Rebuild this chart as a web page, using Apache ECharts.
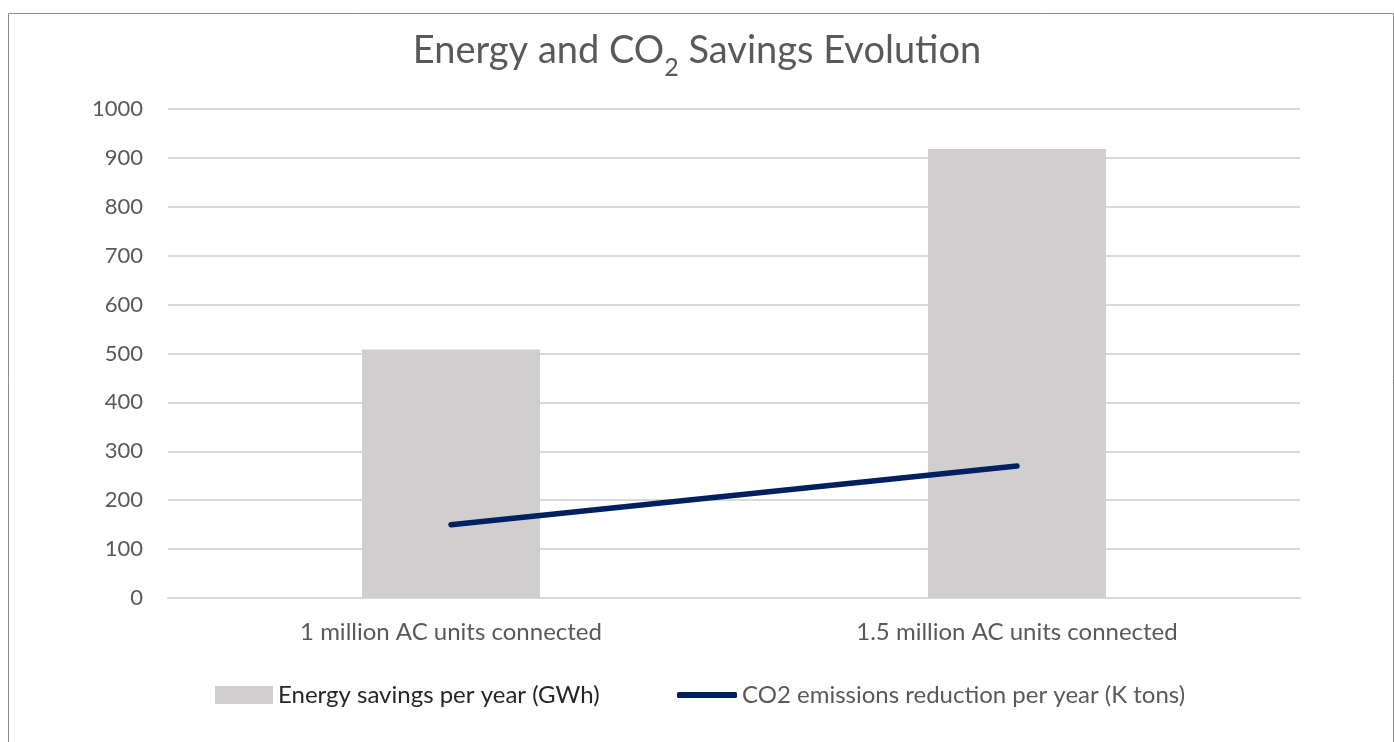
<!DOCTYPE html>
<html><head><meta charset="utf-8">
<script src="https://cdn.jsdelivr.net/npm/echarts@6/dist/echarts.min.js"></script>
<style>html,body{margin:0;padding:0;background:#fff}#c{width:1394px;height:742px}</style>
</head><body><div id="c"></div>
<script>
const categories = ['1 million AC units connected', '1.5 million AC units connected'];
const energySavings = [508, 918];
const co2Reduction = [150, 270];
const seriesNames = ['Energy savings per year (GWh)', 'CO2 emissions reduction per year (K tons)'];
const FONT = 'Lato';
const chart = echarts.init(document.getElementById('c'));
chart.setOption({
  animation: false,
  textStyle: { fontFamily: FONT },
  graphic: [{ type: 'rect', shape: { x: 8.5, y: 13.5, width: 1385, height: 740 }, style: { fill: 'none', stroke: '#8c8c8c', lineWidth: 1 } }],
  title: {
    text: '{a|Energy and CO}{s|2}{a| Savings Evolution}',
    left: 'center', top: 17,
    textStyle: {
      fontWeight: 'normal',
      rich: {
        a: { fontFamily: FONT, fontSize: 38, fontWeight: 'normal', color: '#595959', lineHeight: 48, verticalAlign: 'bottom' },
        s: { fontFamily: FONT, fontSize: 25, fontWeight: 'normal', color: '#595959', lineHeight: 48, verticalAlign: 'bottom', padding: [0, 0, -10, 0] }
      }
    }
  },
  legend: [
    { data: [seriesNames[0]], left: 215, top: 683, padding: 0, itemWidth: 58, itemHeight: 18, icon: 'rect', itemGap: 5,
      textStyle: { fontFamily: FONT, fontSize: 24, color: '#262626' } },
    { data: [seriesNames[1]], left: 677, top: 683, padding: 0, itemWidth: 60, itemHeight: 6, icon: 'roundRect', itemGap: 4,
      itemStyle: { color: '#002060' },
      textStyle: { fontFamily: FONT, fontSize: 24, color: '#595959' } }
  ],
  grid: { left: 168, right: 94, top: 109, bottom: 144 },
  xAxis: {
    type: 'category', data: categories,
    axisLine: { lineStyle: { color: '#d9d9d9', width: 2 } },
    axisTick: { show: false },
    axisLabel: { fontFamily: FONT, fontSize: 24, color: '#595959', margin: 22 }
  },
  yAxis: {
    type: 'value', min: 0, max: 1000, interval: 100,
    splitLine: { lineStyle: { color: '#d9d9d9', width: 2 } },
    axisLabel: { fontFamily: FONT, fontSize: 22, color: '#595959', margin: 25, formatter: function (v) { return String(v); } }
  },
  series: [
    { name: seriesNames[0], type: 'bar', data: energySavings, barWidth: 178, itemStyle: { color: '#d0cece' } },
    { name: seriesNames[1], type: 'line', data: co2Reduction, symbol: 'none',
      lineStyle: { color: '#002060', width: 5.5, cap: 'round' }, itemStyle: { color: '#002060' } }
  ]
});
</script></body></html>
